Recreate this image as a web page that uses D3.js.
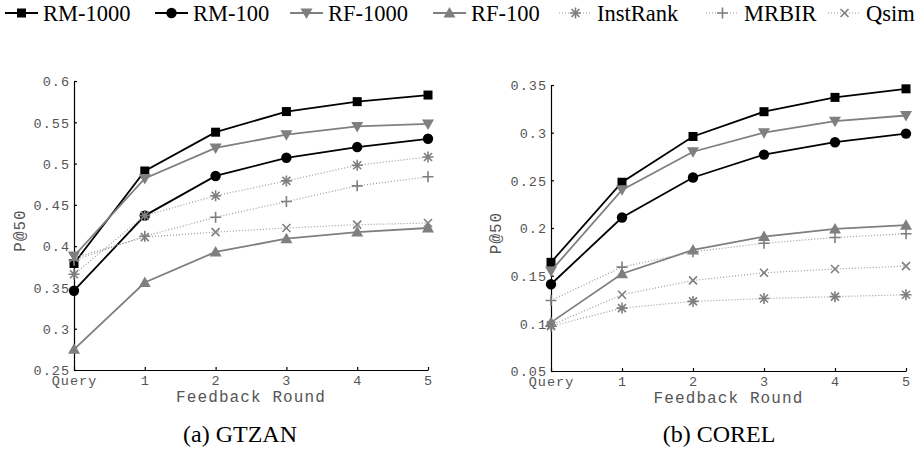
<!DOCTYPE html>
<html>
<head>
<meta charset="utf-8">
<script src="https://cdn.jsdelivr.net/npm/d3@7"></script>
<style>
  body { margin: 0; background: #fff; }
  svg { display: block; }
</style>
</head>
<body>
<div id="chart"></div>
<script>
// rounds on the x axis (0 = initial query)
var rounds = [0, 1, 2, 3, 4, 5];
var roundLabels = ['Query', '1', '2', '3', '4', '5'];
var methods = ['RM-1000', 'RM-100', 'RF-1000', 'RF-100', 'InstRank', 'MRBIR', 'Qsim'];

// P@50, GTZAN
var gtzanRM1000 = [0.379, 0.491, 0.538, 0.563, 0.575, 0.583];
var gtzanRM100  = [0.346, 0.437, 0.485, 0.507, 0.520, 0.530];
var gtzanRF1000 = [0.388, 0.482, 0.519, 0.535, 0.545, 0.548];
var gtzanRF100  = [0.275, 0.356, 0.393, 0.409, 0.417, 0.422];
var gtzanInst   = [0.366, 0.437, 0.461, 0.479, 0.498, 0.508];
var gtzanMRBIR  = [0.383, 0.412, 0.435, 0.454, 0.473, 0.484];
var gtzanQsim   = [0.386, 0.411, 0.417, 0.422, 0.426, 0.428];

// P@50, COREL
var corelRM1000 = [0.164, 0.248, 0.296, 0.322, 0.337, 0.346];
var corelRM100  = [0.141, 0.211, 0.253, 0.277, 0.290, 0.299];
var corelRF1000 = [0.155, 0.240, 0.280, 0.300, 0.312, 0.318];
var corelRF100  = [0.101, 0.152, 0.177, 0.191, 0.199, 0.203];
var corelInst   = [0.097, 0.116, 0.123, 0.126, 0.128, 0.130];
var corelMRBIR  = [0.124, 0.159, 0.175, 0.184, 0.190, 0.194];
var corelQsim   = [0.098, 0.130, 0.145, 0.153, 0.157, 0.160];

var gtzanTicks = [0.25, 0.3, 0.35, 0.4, 0.45, 0.5, 0.55, 0.6];
var corelTicks = [0.05, 0.1, 0.15, 0.2, 0.25, 0.3, 0.35];

var W = 922, H = 450;
var black = '#000', gray = '#7f7f7f', dotGray = '#9a9a9a';
var monoFont = '"Liberation Mono", "DejaVu Sans Mono", monospace';
var serifFont = '"Liberation Serif", serif';

// style per method
var styles = {
  'RM-1000':  {color: black, marker: 'square',   dotted: false},
  'RM-100':   {color: black, marker: 'circle',   dotted: false},
  'RF-1000':  {color: gray,  marker: 'tridown',  dotted: false},
  'RF-100':   {color: gray,  marker: 'triup',    dotted: false},
  'InstRank': {color: gray,  marker: 'asterisk', dotted: true},
  'MRBIR':    {color: gray,  marker: 'plus',     dotted: true},
  'Qsim':     {color: gray,  marker: 'cross',    dotted: true}
};
// left edge of each legend entry
var legendX = [5, 155, 290, 433, 559, 706, 828];

var svg = d3.select('#chart').append('svg')
    .attr('width', W)
    .attr('height', H);

function drawMarker(g, type, color) {
  if (type === 'square') {
    g.append('rect').attr('x', -4.5).attr('y', -4.5).attr('width', 9).attr('height', 9).attr('fill', color);
  } else if (type === 'circle') {
    g.append('circle').attr('r', 5.2).attr('fill', color);
  } else if (type === 'triup') {
    g.append('path').attr('d', 'M0,-6L6,4.5L-6,4.5Z').attr('fill', color);
  } else if (type === 'tridown') {
    g.append('path').attr('d', 'M0,6L6,-4.5L-6,-4.5Z').attr('fill', color);
  } else {
    var d = '';
    if (type === 'plus' || type === 'asterisk') d += 'M-5.5,0L5.5,0M0,-5.5L0,5.5';
    if (type === 'cross' || type === 'asterisk') d += 'M-4,-4L4,4M-4,4L4,-4';
    g.append('path').attr('d', d).attr('stroke', color).attr('stroke-width', 1.6).attr('fill', 'none');
  }
}

function drawPanel(opt) {
  var x = d3.scaleLinear().domain([0, 5]).range([opt.x0, opt.x1]);
  var y = d3.scaleLinear().domain(opt.domain).range([opt.y0, opt.y1]);
  var g = svg.append('g');

  var xAxis = d3.axisBottom(x)
      .tickValues(rounds)
      .tickFormat(function(d, i) { return roundLabels[i]; })
      .tickSizeInner(-3)
      .tickSizeOuter(0)
      .tickPadding(5);
  var yAxis = d3.axisLeft(y)
      .tickValues(opt.ticks)
      .tickFormat(function(d) { return String(+d.toFixed(2)); })
      .tickSizeInner(-3)
      .tickSizeOuter(0)
      .tickPadding(4);

  var gx = g.append('g').attr('transform', 'translate(0,' + opt.y0 + ')').call(xAxis);
  var gy = g.append('g').attr('transform', 'translate(' + opt.x0 + ',0)').call(yAxis);
  [gx, gy].forEach(function(a) {
    a.selectAll('path, line').attr('stroke', '#000').attr('stroke-width', 1.2);
    a.selectAll('text')
        .attr('fill', '#555')
        .style('font-family', monoFont)
        .style('font-size', '13.5px')
        .style('letter-spacing', '1px');
  });
  gy.selectAll('text').attr('dy', '0.35em');

  g.append('text')
      .attr('x', (opt.x0 + opt.x1) / 2)
      .attr('y', opt.y0 + 32)
      .attr('text-anchor', 'middle')
      .attr('fill', '#555')
      .style('font-family', monoFont)
      .style('font-size', '16px')
      .style('letter-spacing', '1.1px')
      .text('Feedback Round');

  g.append('text')
      .attr('transform', 'translate(' + opt.ylabX + ',' + ((opt.y0 + opt.y1) / 2 + 5) + ') rotate(-90)')
      .attr('text-anchor', 'middle')
      .attr('fill', '#555')
      .style('font-family', monoFont)
      .style('font-size', '16px')
      .style('letter-spacing', '1px')
      .text('P@50');

  var line = d3.line()
      .x(function(d, i) { return x(rounds[i]); })
      .y(function(d) { return y(d); });

  methods.forEach(function(m, k) {
    var s = styles[m];
    g.append('path')
        .datum(opt.series[k])
        .attr('fill', 'none')
        .attr('stroke', s.dotted ? dotGray : s.color)
        .attr('stroke-width', s.dotted ? 1.2 : 1.8)
        .attr('stroke-dasharray', s.dotted ? '1,2' : null)
        .attr('d', line);
    opt.series[k].forEach(function(v, i) {
      var mg = g.append('g').attr('transform', 'translate(' + x(rounds[i]) + ',' + y(v) + ')');
      drawMarker(mg, s.marker, s.color);
    });
  });

  g.append('text')
      .attr('x', opt.capX)
      .attr('y', 442)
      .attr('text-anchor', 'middle')
      .attr('fill', '#000')
      .style('font-family', serifFont)
      .style('font-size', '24px')
      .text(opt.caption);
}

drawPanel({
  x0: 74, x1: 428, y0: 370, y1: 81,
  domain: [0.25, 0.6], ticks: gtzanTicks, ylabX: 25,
  series: [gtzanRM1000, gtzanRM100, gtzanRF1000, gtzanRF100, gtzanInst, gtzanMRBIR, gtzanQsim],
  caption: '(a) GTZAN', capX: 240
});
drawPanel({
  x0: 551, x1: 906, y0: 371, y1: 85,
  domain: [0.05, 0.35], ticks: corelTicks, ylabX: 501,
  series: [corelRM1000, corelRM100, corelRF1000, corelRF100, corelInst, corelMRBIR, corelQsim],
  caption: '(b) COREL', capX: 719
});

// legend across the top
var legend = svg.append('g');
methods.forEach(function(m, k) {
  var s = styles[m];
  var item = legend.append('g').attr('transform', 'translate(' + legendX[k] + ',0)');
  item.append('line')
      .attr('x1', 0).attr('x2', 33).attr('y1', 13).attr('y2', 13)
      .attr('stroke', s.dotted ? dotGray : s.color)
      .attr('stroke-width', s.dotted ? 1.2 : 1.8)
      .attr('stroke-dasharray', s.dotted ? '1,2' : null);
  drawMarker(item.append('g').attr('transform', 'translate(16.5,13)'), s.marker, s.color);
  item.append('text')
      .attr('x', 38).attr('y', 21)
      .style('font-family', serifFont)
      .style('font-size', '22.5px')
      .attr('fill', '#000')
      .text(m);
});
</script>
</body>
</html>
